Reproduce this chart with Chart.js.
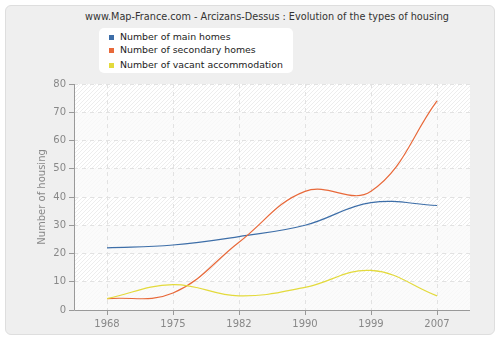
<!DOCTYPE html>
<html>
<head>
<meta charset="utf-8">
<script src="https://cdn.jsdelivr.net/npm/chart.js@4/dist/chart.umd.min.js"></script>
<style>
  html, body { margin: 0; padding: 0; background: #ffffff; }
  #wrap { position: relative; width: 500px; height: 340px; }
  #panel { position: absolute; left: 5px; top: 5px; width: 488px; height: 328px;
           background: #efefef; border: 1px solid #dedede; border-radius: 6px; }
  #title { position: absolute; left: 0; top: 11px; width: 534px; text-align: center;
           font-family: "DejaVu Sans", Verdana, sans-serif; font-size: 9.7px; color: #333; }
  #legend { position: absolute; left: 99px; top: 28px; width: 194px; height: 45px;
            background: #ffffff; border-radius: 5px;
            font-family: "DejaVu Sans", Verdana, sans-serif; font-size: 9.4px; color: #222; }
  .item { position: absolute; left: 21px; white-space: nowrap; }
  .sw { position: absolute; left: -11px; top: 4px; width: 5px; height: 5px; }
  canvas { position: absolute; left: 0; top: 0; }
</style>
</head>
<body>
<div id="wrap">
  <div id="panel"></div>
  <div id="title"></div>
  <div id="legend"></div>
  <canvas id="c" width="500" height="340"></canvas>
</div>
<script>
const titleText = "www.Map-France.com - Arcizans-Dessus : Evolution of the types of housing";
const years = ["1968", "1975", "1982", "1990", "1999", "2007"];
const mainHomes = [22, 23, 26, 30, 38, 37];
const secondaryHomes = [4, 6, 24, 42, 42, 74];
const vacantHomes = [4, 9, 5, 8, 14, 5];
const seriesNames = ["Number of main homes", "Number of secondary homes", "Number of vacant accommodation"];
const seriesColors = ["#3d6ea8", "#e8693a", "#e3da3c"];
const yTicks = [0, 10, 20, 30, 40, 50, 60, 70, 80];
const yTitle = "Number of housing";

document.getElementById('title').textContent = titleText;
const legend = document.getElementById('legend');
const legendTops = [3, 16, 31];
seriesNames.forEach((n, i) => {
  const d = document.createElement('div');
  d.className = 'item';
  d.style.top = legendTops[i] + 'px';
  d.innerHTML = '<span class="sw" style="background:' + seriesColors[i] + '"></span>';
  d.appendChild(document.createTextNode(n));
  legend.appendChild(d);
});

const bgPlugin = {
  id: 'bg',
  beforeDraw(chart) {
    const { ctx, chartArea: a, scales } = chart;
    ctx.save();
    ctx.fillStyle = '#ffffff';
    ctx.fillRect(a.left, a.top, a.right - a.left, a.bottom - a.top);
    ctx.beginPath();
    ctx.rect(a.left, a.top, a.right - a.left, a.bottom - a.top);
    ctx.clip();
    ctx.strokeStyle = '#ededed';
    ctx.lineWidth = 1;
    ctx.beginPath();
    for (let x = a.left - 300; x < a.right + 300; x += 4) {
      ctx.moveTo(x, a.bottom);
      ctx.lineTo(x + (a.bottom - a.top), a.top);
    }
    ctx.stroke();
    const y = scales.y;
    ctx.fillStyle = 'rgba(250,250,250,0.75)';
    for (let i = 0; i < yTicks.length - 1; i++) {
      if (i % 2 === 0) {
        const y0 = y.getPixelForValue(yTicks[i]);
        const y1 = y.getPixelForValue(yTicks[i + 1]);
        ctx.fillRect(a.left, y1, a.right - a.left, y0 - y1);
      }
    }
    ctx.restore();
  },
  afterDatasetsDraw(chart) {
    const { ctx, chartArea: a } = chart;
    ctx.save();
    ctx.strokeStyle = '#999999';
    ctx.lineWidth = 1;
    ctx.beginPath();
    ctx.moveTo(a.left + 0.5, a.top);
    ctx.lineTo(a.left + 0.5, a.bottom + 0.5);
    ctx.lineTo(a.right, a.bottom + 0.5);
    ctx.stroke();
    ctx.restore();
  }
};

const tickFont = { family: "DejaVu Sans, Verdana, sans-serif", size: 10 };

new Chart(document.getElementById('c'), {
  type: 'line',
  data: {
    labels: years,
    datasets: [mainHomes, secondaryHomes, vacantHomes].map((d, i) => ({
      label: seriesNames[i],
      data: d,
      borderColor: seriesColors[i],
      backgroundColor: seriesColors[i],
      borderWidth: 1.2,
      pointRadius: 0,
      tension: 0.4,
      fill: false
    })).reverse()
  },
  options: {
    responsive: false,
    animation: false,
    devicePixelRatio: 1,
    layout: { padding: { top: 84, left: 0, right: 30, bottom: 0 } },
    plugins: { legend: { display: false }, title: { display: false }, tooltip: { enabled: false } },
    scales: {
      x: {
        type: 'category',
        offset: true,
        grid: { offset: false, color: '#e2e2e2', tickColor: '#999999', tickLength: 5, tickBorderDash: [], drawTicks: true },
        border: { display: false, dash: [4, 4] },
        ticks: { color: '#888888', font: tickFont, padding: 3, maxRotation: 0 },
        afterFit(s) { s.height = 30; }
      },
      y: {
        min: 0, max: 80,
        afterBuildTicks(s) { s.ticks = yTicks.map(v => ({ value: v })); },
        grid: { color: '#e2e2e2', tickColor: '#999999', tickLength: 5, tickBorderDash: [] },
        border: { display: false, dash: [4, 4] },
        ticks: { color: '#888888', font: tickFont, padding: 3 },
        title: { display: true, text: yTitle, color: '#888888', font: tickFont, padding: { top: 36, bottom: 0 } },
        afterFit(s) { s.width = 74; }
      }
    }
  },
  plugins: [bgPlugin]
});
</script>
</body>
</html>
